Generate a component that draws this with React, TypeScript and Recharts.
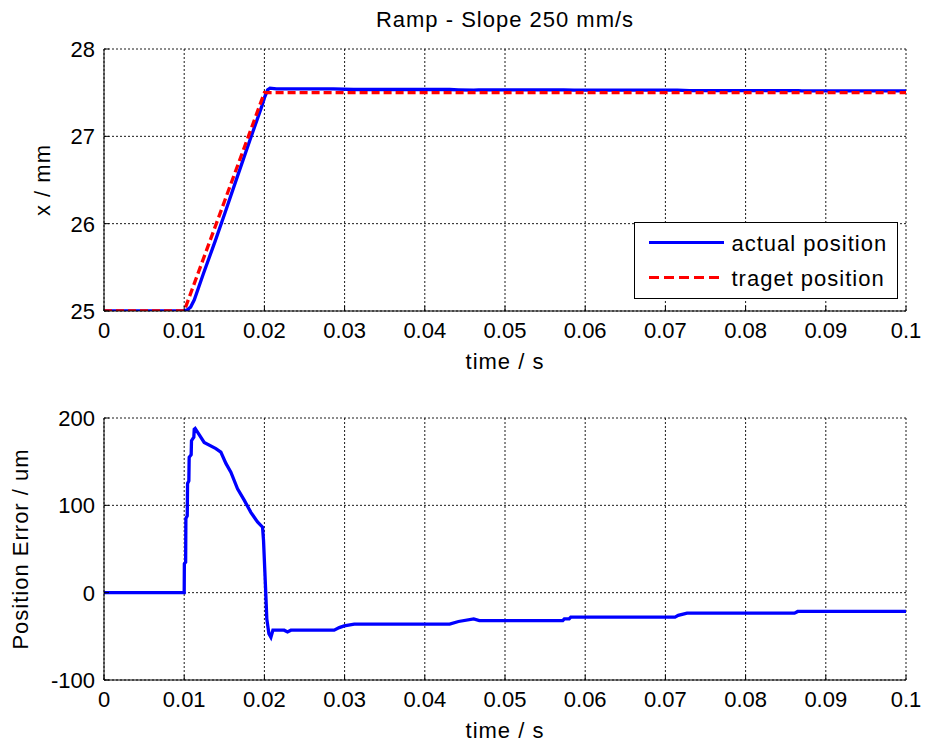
import { LineChart, Line, XAxis, YAxis, CartesianGrid, Legend, Label } from "recharts";

// axis ticks
const timeTicks = [0, 0.01, 0.02, 0.03, 0.04, 0.05, 0.06, 0.07, 0.08, 0.09, 0.1];
const posTicks = [25, 26, 27, 28];
const errTicks = [-100, 0, 100, 200];

// target ramp (mm)
const targetTime = [0, 0.01, 0.02, 0.1];
const targetPos = [25, 25, 27.5, 27.5];

// measured position (mm)
const actualTime = [
  0, 0.01, 0.0104, 0.0108, 0.01126, 0.01238, 0.01384, 0.01509, 0.01654, 0.0182, 0.01966, 0.02,
  0.0204, 0.0207, 0.0215, 0.0286, 0.0311, 0.0431, 0.0442, 0.0461, 0.0467, 0.0573, 0.0586,
  0.0715, 0.073, 0.0866, 0.087, 0.1,
];
const actualPos = [
  25, 25, 25.015, 25.045, 25.128, 25.423, 25.795, 26.125, 26.516, 26.958, 27.34, 27.44,
  27.532, 27.551, 27.543, 27.543, 27.536, 27.536, 27.533, 27.53, 27.532, 27.532, 27.528,
  27.528, 27.523, 27.523, 27.521, 27.521,
];

// position error (um)
const errTime = [
  0, 0.01, 0.01002, 0.01018, 0.01021, 0.01038, 0.01042, 0.01058, 0.01062, 0.01087, 0.01091,
  0.0112, 0.01125, 0.01137, 0.01249, 0.01395, 0.01457, 0.0152, 0.01582, 0.01665, 0.01748,
  0.01831, 0.01914, 0.01977, 0.01989, 0.02014, 0.0203, 0.02056, 0.02081, 0.02106, 0.02247,
  0.02288, 0.0233, 0.0287, 0.02933, 0.02995, 0.0312, 0.0431, 0.0442, 0.0461, 0.0468, 0.0572,
  0.0574, 0.058, 0.0582, 0.0712, 0.0716, 0.0727, 0.0861, 0.0865, 0.1,
];
const errValue = [
  0, 0, 33, 35, 85, 88, 125, 128, 155, 158, 174,
  178, 187, 188, 172, 165, 161, 148, 138, 119, 106,
  92, 81, 75, 60, 6, -30, -47, -51, -43, -43,
  -45, -43, -43, -40, -38, -36, -36, -33, -30, -32, -32,
  -30, -30, -28, -28, -26, -23.5, -23.5, -21.5, -21.5,
];

const FONT = "'Liberation Sans', Arial, Helvetica, sans-serif";
const BLUE = "#0000ff";
const RED = "#ff0000";

const toPoints = (ts: number[], vs: number[]) => ts.map((t, i) => ({ t, v: vs[i] }));

const fmtTime = (v: number) => (v === 0 ? "0" : String(Number(v.toFixed(2))));

const XTick = (p: any) => (
  <text x={p.x} y={p.y + 27} textAnchor="middle" fontFamily={FONT} fontSize={22} fill="#000">
    {fmtTime(p.payload.value)}
  </text>
);

const YTick = (p: any) => (
  <text x={p.x - 9} y={p.y + 8} textAnchor="end" fontFamily={FONT} fontSize={22} fill="#000">
    {p.payload.value}
  </text>
);

const labelStyle = { fontFamily: FONT, fontSize: 22, letterSpacing: 1, fill: "#000" };

// x label under the plot; the top panel also carries the title above its plot box
function xLabel(withTitle: boolean) {
  return (props: any) => {
    const vb = props.viewBox;
    const cx = vb.x + vb.width / 2;
    return (
      <g>
        <text x={cx} y={vb.y + 58} textAnchor="middle" style={labelStyle}>
          time / s
        </text>
        {withTitle ? (
          <text x={cx} y={vb.y - 262 - 22} textAnchor="middle" style={labelStyle}>
            Ramp - Slope 250 mm/s
          </text>
        ) : null}
      </g>
    );
  };
}

function yLabel(text: string, baseX: number) {
  return (props: any) => {
    const vb = props.viewBox;
    return (
      <text
        transform={`translate(${baseX}, ${vb.y + vb.height / 2}) rotate(-90)`}
        textAnchor="middle"
        style={labelStyle}
      >
        {text}
      </text>
    );
  };
}

function LegendBox() {
  return (
    <svg width={264} height={77} style={{ display: "block" }}>
      <rect x={0.5} y={0.5} width={263} height={76} fill="#fff" stroke="#000" />
      <line x1={15} x2={90} y1={20.5} y2={20.5} stroke={BLUE} strokeWidth={3} />
      <text x={97.5} y={28.5} style={labelStyle}>
        actual position
      </text>
      <line x1={15} x2={90} y1={55.5} y2={55.5} stroke={RED} strokeWidth={3} strokeDasharray="10 5" />
      <text x={97.5} y={64} style={labelStyle}>
        traget position
      </text>
    </svg>
  );
}

const axisLine = { stroke: "#000", strokeWidth: 1 };

type PanelProps = {
  yDomain: [number, number];
  yTicks: number[];
  yLabelText: string;
  yLabelX: number;
  title?: boolean;
  children: React.ReactNode;
  legend?: boolean;
};

function Panel({ yDomain, yTicks, yLabelText, yLabelX, title, children, legend }: PanelProps) {
  return (
    <LineChart width={926} height={376} margin={{ top: 49, right: 20, bottom: 0, left: 0 }}>
      <CartesianGrid xAxisId="b" yAxisId="l" stroke="#1a1a1a" strokeDasharray="2 2" />
      <XAxis
        xAxisId="b"
        dataKey="t"
        type="number"
        domain={[0, 0.1]}
        ticks={timeTicks}
        allowDataOverflow
        height={65}
        axisLine={axisLine}
        tickLine={axisLine}
        tickSize={-5}
        tickMargin={5}
        tick={XTick}
        interval={0}
      >
        <Label content={xLabel(!!title)} />
      </XAxis>
      <XAxis
        xAxisId="t"
        orientation="top"
        dataKey="t"
        type="number"
        domain={[0, 0.1]}
        ticks={timeTicks}
        allowDataOverflow
        height={0}
        axisLine={axisLine}
        tickLine={axisLine}
        tickSize={-5}
        tick={false}
        interval={0}
      />
      <YAxis
        yAxisId="l"
        type="number"
        domain={yDomain}
        ticks={yTicks}
        allowDataOverflow
        width={104}
        axisLine={axisLine}
        tickLine={axisLine}
        tickSize={-5}
        tickMargin={5}
        tick={YTick}
        interval={0}
      >
        <Label content={yLabel(yLabelText, yLabelX)} />
      </YAxis>
      <YAxis
        yAxisId="r"
        orientation="right"
        type="number"
        domain={yDomain}
        ticks={yTicks}
        allowDataOverflow
        width={0}
        axisLine={axisLine}
        tickLine={axisLine}
        tickSize={-5}
        tick={false}
        interval={0}
      />
      {children}
      {legend ? (
        <Legend
          layout="vertical"
          align="center"
          verticalAlign="middle"
          wrapperStyle={{ left: 634, top: 222, width: 264, height: 77 }}
          content={() => <LegendBox />}
        />
      ) : null}
    </LineChart>
  );
}

export default function App() {
  const target = toPoints(targetTime, targetPos);
  const actual = toPoints(actualTime, actualPos);
  const error = toPoints(errTime, errValue);

  return (
    <div
      style={{
        position: "absolute",
        left: 0,
        top: 0,
        width: 926,
        height: 745,
        background: "#fff",
        overflow: "hidden",
      }}
    >
      <div style={{ position: "absolute", left: 0, top: 0 }}>
        <Panel yDomain={[25, 28]} yTicks={posTicks} yLabelText="x / mm" yLabelX={50} title legend>
          <Line
            xAxisId="b"
            yAxisId="l"
            data={actual}
            dataKey="v"
            type="linear"
            stroke={BLUE}
            strokeWidth={3.3}
            dot={false}
            isAnimationActive={false}
          />
          <Line
            xAxisId="b"
            yAxisId="l"
            data={target}
            dataKey="v"
            type="linear"
            stroke={RED}
            strokeWidth={3.3}
            strokeDasharray="8 4"
            dot={false}
            isAnimationActive={false}
          />
        </Panel>
      </div>
      <div style={{ position: "absolute", left: 0, top: 369 }}>
        <Panel yDomain={[-100, 200]} yTicks={errTicks} yLabelText="Position Error / um" yLabelX={28}>
          <Line
            xAxisId="b"
            yAxisId="l"
            data={error}
            dataKey="v"
            type="linear"
            stroke={BLUE}
            strokeWidth={3.3}
            dot={false}
            isAnimationActive={false}
          />
        </Panel>
      </div>
    </div>
  );
}
